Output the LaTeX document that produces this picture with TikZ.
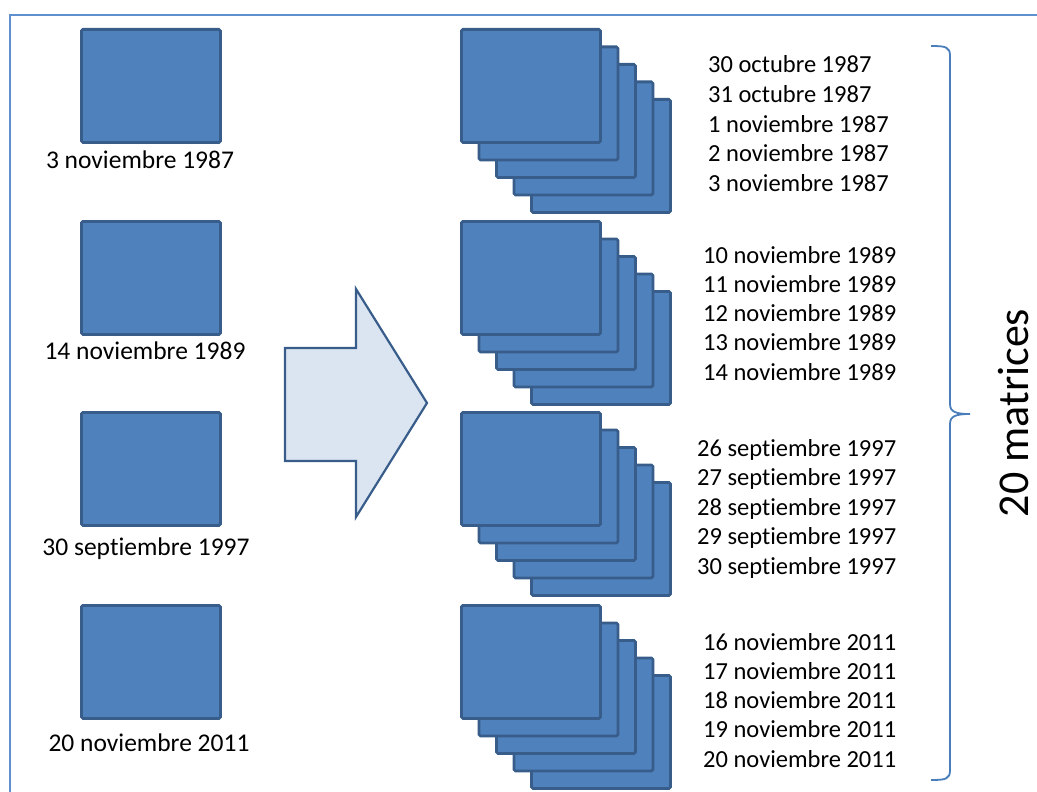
\documentclass[tikz,border=0pt]{standalone}
\usepackage{fontspec}
\setmainfont[Ligatures=NoCommon]{Carlito}
\usepackage{tikz}
\usetikzlibrary{positioning}
\definecolor{ofblue}{HTML}{4F81BD}
\definecolor{ofline}{HTML}{385D8A}
\definecolor{ofpale}{HTML}{DBE5F1}
\definecolor{offrame}{HTML}{5F8FCC}
\definecolor{ofbrace}{HTML}{4A7EBB}

\begin{document}
\begin{tikzpicture}[x=1pt,y=-1pt]
\tikzstyle{matrixbox} = [rectangle, draw=ofline, line width=2.8pt, fill=ofblue,
minimum width=139pt, minimum height=113pt, rounded corners=1.5pt, inner sep=0pt, anchor=north west]
\tikzstyle{datelabel} = [font=\fontsize{25.5}{30}\selectfont, anchor=base, inner sep=0pt]
\tikzstyle{dayline} = [font=\fontsize{24.5}{29}\selectfont, anchor=base west, inner sep=0pt]
\useasboundingbox (0,0) rectangle (1037,792);
% frame
\draw[offrame, line width=1.6pt] (10,792) -- (10,15) -- (1037,15);
% left column: one matrix per date
\node [matrixbox] (day1) at (80,28) {};
\node [datelabel] (lab1) at (140,168) {3 noviembre 1987};
\node [matrixbox] (day2) at (80,220) {};
\node [datelabel] (lab2) at (145,359) {14 noviembre 1989};
\node [matrixbox] (day3) at (80,411) {};
\node [datelabel] (lab3) at (146,555) {30 septiembre 1997};
\node [matrixbox] (day4) at (80,604) {};
\node [datelabel] (lab4) at (149,751) {20 noviembre 2011};
% block arrow
\draw[draw=ofline, fill=ofpale, line width=2.2pt] (285,348) -- (356,348) -- (356,289)
  -- (427,403) -- (356,517) -- (356,461) -- (285,461) -- cycle;
% stacks of five matrices
\foreach \k/\y in {1/28, 2/220, 3/411, 4/604}
  \foreach \j in {4,3,2,1,0}
    \node [matrixbox] (st\k-\j) at (460+17.5*\j, \y+17.5*\j) {};
% row 1
\foreach \t [count=\n from 0] in {30 octubre 1987, 31 octubre 1987, 1 noviembre 1987, 2 noviembre 1987, 3 noviembre 1987}
  \node [dayline] (txa\n) at (708, 73+29.5*\n) {\t};
% row 2
\foreach \d [count=\n from 0] in {10,...,14}
  \node [dayline] (txb\n) at (703, 263+29.3*\n) {\d{} noviembre 1989};
% row 3
\foreach \d [count=\n from 0] in {26,...,30}
  \node [dayline] (txc\n) at (697, 456+29.5*\n) {\d{} septiembre 1997};
% row 4
\foreach \d [count=\n from 0] in {16,...,20}
  \node [dayline] (txd\n) at (703, 650+29.3*\n) {\d{} noviembre 2011};
% brace
\draw[ofbrace, line width=1.8pt] (931,46) .. controls (946,46) and (950,47) .. (950,56)
  -- (950,404) .. controls (950,412) and (956,414) .. (970,414)
  .. controls (956,414) and (950,416) .. (950,424)
  -- (950,770) .. controls (950,779) and (946,780) .. (931,780);
\node [rotate=90, font=\fontsize{44}{50}\selectfont, inner sep=0pt] (total) at (1014,413) {20 matrices};
\end{tikzpicture}
\end{document}
